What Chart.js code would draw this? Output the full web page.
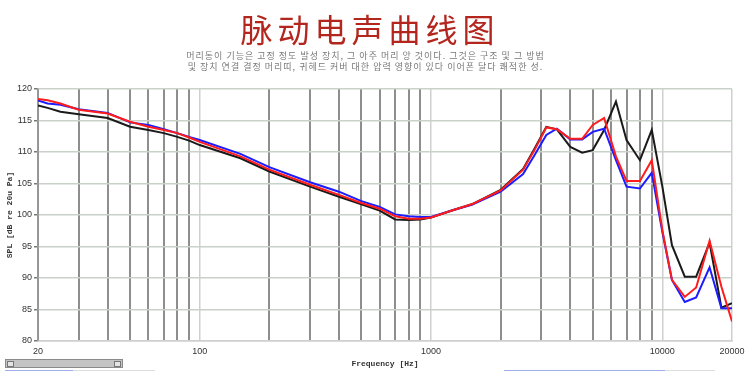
<!DOCTYPE html>
<html>
<head>
<meta charset="utf-8">
<script src="https://cdn.jsdelivr.net/npm/chart.js@4/dist/chart.umd.min.js"></script>
<style>
	body { margin: 0; background: #fff; overflow: hidden; }
	#wrap { position: relative; width: 750px; height: 388px; }
	#score-chart { position: absolute; left: 0; top: 0; }
	#title {
		position: absolute; left: 0; top: 8px; width: 740px; text-align: center;
		font-family: "Noto Sans CJK SC", sans-serif; font-size: 32px; letter-spacing: 5px;
		color: #b3261e; line-height: 40px;
	}
	#sub {
		position: absolute; left: 0; top: 50px; width: 731px; text-align: center;
		font-family: "Noto Sans CJK KR", sans-serif; font-size: 9px; line-height: 11px;
		letter-spacing: 1px; color: #7a7a7a;
	}
	#scroll {
		position: absolute; left: 5px; top: 359px; width: 116px; height: 7px;
		background: #c4c4c4; border: 1px solid #8a8a8a;
	}
	#scroll span { position: absolute; top: 1px; width: 5px; height: 4px; border: 1px solid #777; background: #e4e4e4; }
	.faint { position: absolute; height: 1px; }
</style>
</head>
<body>
<div id="wrap">
	<canvas id="score-chart" width="750" height="388"></canvas>
	<div id="title">脉动电声曲线图</div>
	<div id="sub">머리동이 기능은 고정 정도 발성 장치, 그 아주 머리 앙 것이다. 그것은 구조 및 그 방법<br>및 장치 연결 결정 머리띠, 귀헤드 커버 대한 압력 영향이 있다 이어폰 달다 쾌적한 성.</div>
	<div id="scroll"><span style="left:1px"></span><span style="right:1px"></span></div>
	<div class="faint" style="left:5px; top:370px; width:68px; background:#9db0e8"></div>
	<div class="faint" style="left:73px; top:370px; width:82px; background:#ddd"></div>
	<div class="faint" style="left:504px; top:370px; width:161px; background:#9db0e8"></div>
	<div class="faint" style="left:665px; top:370px; width:50px; background:#ddd"></div>
</div>
<script>
// Frequencies (Hz)
var freqs = [20, 22, 25, 30, 40, 50, 60, 70, 80, 90, 100, 150, 200, 300, 400, 500, 600, 700, 800, 900,
	1000, 1250, 1500, 2000, 2500, 2800, 3150, 3500, 4000, 4500, 5000, 5600, 6300, 7000, 8000, 9000,
	10000, 11000, 12500, 14000, 16000, 18000, 20000];

// SPL values (dB) for each curve
var blackSpl = [117.4, 117.0, 116.4, 116.0, 115.4, 114.0, 113.5, 113.0, 112.4, 111.8, 111.1, 109.0, 106.9, 104.5, 102.9, 101.7, 100.7, 99.3, 99.2, 99.3,
	99.6, 100.8, 101.7, 104.0, 107.3, 110.5, 114.0, 113.6, 110.8, 109.9, 110.3, 113.5, 118.0, 111.9, 108.7, 113.5,
	104.5, 95.2, 90.2, 90.2, 95.6, 85.3, 86.0];
var redSpl = [118.4, 118.2, 117.7, 116.7, 116.1, 114.8, 114.0, 113.5, 113.0, 112.3, 111.6, 109.3, 107.2, 104.8, 103.2, 101.9, 101.0, 99.8, 99.4, 99.4,
	99.6, 100.8, 101.7, 103.9, 107.2, 110.3, 113.9, 113.6, 112.1, 112.1, 114.3, 115.4, 109.3, 105.4, 105.4, 108.7,
	97.6, 89.7, 87.0, 88.5, 95.9, 88.6, 83.1];
var blueSpl = [118.2, 117.7, 117.5, 116.8, 116.2, 114.7, 114.3, 113.6, 113.0, 112.4, 111.9, 109.7, 107.6, 105.2, 103.7, 102.2, 101.3, 100.1, 99.8, 99.7,
	99.7, 100.8, 101.6, 103.7, 106.5, 109.5, 112.7, 113.7, 112.0, 112.0, 113.2, 113.7, 108.7, 104.5, 104.2, 106.7,
	97.3, 89.7, 86.2, 86.9, 91.7, 85.2, 85.2];

// grid lines on the frequency axis, and which of them carry a label
var freqGrid = [20, 30, 40, 50, 60, 70, 80, 90, 100, 200, 300, 400, 500, 600, 700, 800, 900,
	1000, 2000, 3000, 4000, 5000, 6000, 7000, 8000, 9000, 10000, 20000];
var freqLabels = [20, 100, 1000, 10000, 20000];
var decades = [100, 1000, 10000, 20000];

function toPoints(vals) {
	var pts = [];
	for (var i = 0; i < freqs.length; i++) {
		pts.push({x: freqs[i], y: vals[i]});
	}
	return pts;
}

function lineSet(vals, colour) {
	return {
		data: toPoints(vals),
		borderColor: colour,
		borderWidth: 2,
		pointRadius: 0,
		tension: 0,
		fill: false
	};
}

var ctx = document.getElementById("score-chart").getContext("2d");

// red first so it is drawn on top
var scoreChart = new Chart(ctx, {
	type: "line",
	data: {
		datasets: [
			lineSet(redSpl, "#ff1c1c"),
			lineSet(blueSpl, "#1c1cff"),
			lineSet(blackSpl, "#1a1a1a")
		]
	},
	options: {
		responsive: false,
		animation: false,
		devicePixelRatio: 1,
		layout: {padding: {left: 0, right: 18, top: 89, bottom: 0}},
		plugins: {legend: {display: false}, tooltip: {enabled: false}},
		scales: {
			x: {
				type: "logarithmic",
				min: 20,
				max: 20000,
				afterBuildTicks: function(scale) {
					scale.ticks = freqGrid.map(function(v) { return {value: v}; });
				},
				afterFit: function(scale) { scale.height = 47; },
				ticks: {
					autoSkip: false,
					maxRotation: 0,
					padding: 5,
					color: "#333",
					font: {family: "Liberation Sans", size: 9},
					callback: function(v) { return freqLabels.indexOf(v) >= 0 ? String(v) : ""; }
				},
				grid: {
					drawTicks: false,
					color: function(c) { return decades.indexOf(c.tick.value) >= 0 ? "#cfcfcf" : "#8e8e8e"; },
					lineWidth: function(c) { return decades.indexOf(c.tick.value) >= 0 ? 1.5 : 2; }
				},
				border: {color: "#cfcfcf", width: 1.5},
				title: {
					display: true,
					text: "Frequency [Hz]",
					color: "#333",
					font: {family: "Liberation Mono", size: 8, weight: "bold"},
					padding: {top: 0, bottom: 19}
				}
			},
			y: {
				min: 80,
				max: 120,
				afterFit: function(scale) { scale.width = 38; },
				ticks: {
					stepSize: 5,
					padding: 2,
					color: "#333",
					font: {family: "Liberation Sans", size: 9}
				},
				grid: {
					color: "#c9d1c9",
					lineWidth: 1.5,
					tickLength: 4,
					tickColor: "#777"
				},
				border: {color: "#999", width: 1.5},
				title: {
					display: true,
					text: "SPL [dB re 20u Pa]",
					color: "#333",
					font: {family: "Liberation Mono", size: 8, weight: "bold"},
					padding: {top: 5, bottom: 0}
				}
			}
		}
	}
});
</script>
</body>
</html>
